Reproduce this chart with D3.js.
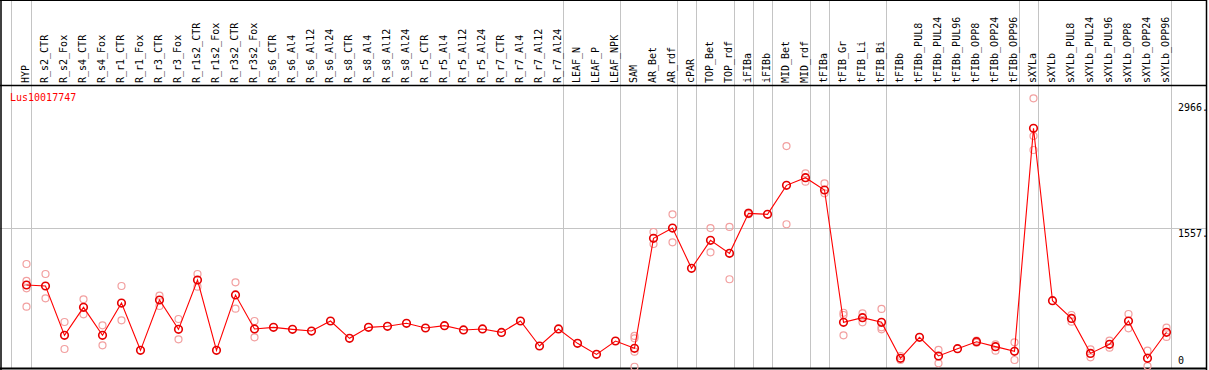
<!DOCTYPE html>
<html>
<head>
<meta charset="utf-8">
<script src="https://cdn.jsdelivr.net/npm/d3@7"></script>
<style>
  body { margin: 0; background: #fff; }
  svg { display: block; }
  text { font-family: "DejaVu Sans Mono", monospace; font-size: 10px; }
</style>
</head>
<body>
<div id="chart"></div>
<script>
// columns (samples)
const categories = ["HYP","R_s2_CTR","R_s2_Fox","R_s4_CTR","R_s4_Fox","R_r1_CTR","R_r1_Fox","R_r3_CTR","R_r3_Fox",
  "R_r1s2_CTR","R_r1s2_Fox","R_r3s2_CTR","R_r3s2_Fox","R_s6_CTR","R_s6_Al4","R_s6_Al12","R_s6_Al24",
  "R_s8_CTR","R_s8_Al4","R_s8_Al12","R_s8_Al24","R_r5_CTR","R_r5_Al4","R_r5_Al12","R_r5_Al24",
  "R_r7_CTR","R_r7_Al4","R_r7_Al12","R_r7_Al24","LEAF_N","LEAF_P","LEAF_NPK","SAM","AR_Bet","AR_rdf",
  "cPAR","TOP_Bet","TOP_rdf","iFIBa","iFIBb","MID_Bet","MID_rdf","tFIBa","tFIB_Gr","tFIB_Li","tFIB_Bi",
  "tFIBb","tFIBb_PUL8","tFIBb_PUL24","tFIBb_PUL96","tFIBb_OPP8","tFIBb_OPP24","tFIBb_OPP96",
  "sXYLa","sXYLb","sXYLb_PUL8","sXYLb_PUL24","sXYLb_PUL96","sXYLb_OPP8","sXYLb_OPP24","sXYLb_OPP96"];

// mean expression per column
const means = [925,914,364,676,364,724,197,758,431,
  981,197,814,435,453,431,412,524,
  331,453,465,498,446,472,424,435,
  397,524,245,435,275,152,301,219,1445,1560,
  1111,1423,1278,1724,1713,2036,2121,1984,509,561,509,
  108,342,134,215,293,238,186,
  2671,750,553,163,264,524,108,398];

// single replicates per column
const replicates = [[1159,970,888,683],[1048,777],[513,212],[765,598],[476,253],[914,531],[],[806,691],[546,320],
  [1048,906],[],[955,661],[524,342],[],[],[],[],
  [],[],[],[],[],[],[],[],
  [],[],[],[],[],[],[],[357,331,182,14],[1516,1382],[1713,1401],
  [],[1560,1289],[1572,989],[1733,1715],[],[2474,1602],[2170,2077],[2058,1947],[616,591,364],[609,509],[658,453,431],
  [134,89],[],[201,52],[],[305,282],[264,193],[286,89],
  [3006,2586,2430],[],[591,516],[208,119],[305,227],[602,442],[193,22],[449,346]];

// last column of each sample group
const groupEnds = ["HYP","R_r7_Al24","LEAF_NPK","AR_rdf","cPAR","TOP_rdf","iFIBa","iFIBb","MID_rdf",
  "tFIBa","tFIB_Bi","tFIBb_OPP96","sXYLa","sXYLb_OPP96"];

const yTicks = [0, 1557, 2966];
const yTickLabels = ["0", "1557.", "2966."];
const geneName = "Lus10017747";

const W = 1209, H = 370;
const headerY = 85, bottomY = 368.5, rightX = 1206.5;

const svg = d3.select("#chart").append("svg")
  .attr("width", W).attr("height", H);

const x = d3.scalePoint()
  .domain(categories)
  .range([26.5, 1166.5]);

const y = d3.scaleLinear()
  .domain([0, 2966])
  .range([368, 101.9]);

const gridColor = "#c4c4c4";

// horizontal grid line
svg.append("line")
  .attr("x1", 0).attr("x2", rightX)
  .attr("y1", Math.round(y(1557)) + 0.5).attr("y2", Math.round(y(1557)) + 0.5)
  .attr("stroke", gridColor);

// group separators
const sepX = [x(categories[0]) - 15.5].concat(groupEnds.map(c => x(c) + 4));
svg.selectAll(".sep")
  .data(sepX)
  .enter().append("line")
  .attr("x1", d => Math.round(d) + 0.5).attr("x2", d => Math.round(d) + 0.5)
  .attr("y1", 0).attr("y2", bottomY)
  .attr("stroke", gridColor);

// frame
svg.append("line").attr("x1", 0).attr("x2", rightX).attr("y1", 0.5).attr("y2", 0.5).attr("stroke", "#000");
svg.append("line").attr("x1", 0).attr("x2", rightX).attr("y1", headerY + 0.5).attr("y2", headerY + 0.5).attr("stroke", "#000").attr("stroke-width", 1.5);
svg.append("line").attr("x1", 0).attr("x2", rightX).attr("y1", bottomY).attr("y2", bottomY).attr("stroke", "#000").attr("stroke-width", 2);
svg.append("line").attr("x1", 1).attr("x2", 1).attr("y1", 0).attr("y2", H).attr("stroke", "#000").attr("stroke-width", 1.5);
svg.append("line").attr("x1", rightX).attr("x2", rightX).attr("y1", 0).attr("y2", H).attr("stroke", "#000").attr("stroke-width", 1.5);

// column labels
svg.selectAll(".collab")
  .data(categories)
  .enter().append("text")
  .attr("transform", d => `translate(${x(d) + 2.5},${headerY - 2}) rotate(-90)`)
  .attr("fill", "#000")
  .text(d => d);

// gene name
svg.append("text")
  .attr("x", 10).attr("y", 101)
  .attr("fill", "#ff0000")
  .text(geneName);

// right axis
const axis = d3.axisRight(y)
  .tickValues(yTicks)
  .tickSize(0)
  .tickPadding(0)
  .tickFormat((d, i) => yTickLabels[i]);
const gAxis = svg.append("g")
  .attr("transform", "translate(1178,0)")
  .call(axis);
gAxis.select(".domain").remove();
gAxis.selectAll("text")
  .attr("x", 0)
  .attr("dy", d => d === 0 ? "-0.5em" : "0.85em")
  .style("font-family", "'DejaVu Sans Mono', monospace")
  .style("font-size", "10px")
  .attr("fill", "#000");

// replicate points
const repPts = [];
categories.forEach((c, i) => replicates[i].forEach(v => repPts.push({ c, v })));
svg.selectAll(".rep")
  .data(repPts)
  .enter().append("circle")
  .attr("cx", d => x(d.c))
  .attr("cy", d => y(d.v))
  .attr("r", 3.5)
  .attr("fill", "none")
  .attr("stroke", "#f2a0a0")
  .attr("stroke-width", 1.2);

// mean line
const line = d3.line()
  .x((d, i) => x(categories[i]))
  .y(d => y(d));
svg.append("path")
  .datum(means)
  .attr("d", line)
  .attr("fill", "none")
  .attr("stroke", "#ff0000")
  .attr("stroke-width", 1.1);

// mean points
svg.selectAll(".mean")
  .data(means)
  .enter().append("circle")
  .attr("cx", (d, i) => x(categories[i]))
  .attr("cy", d => y(d))
  .attr("r", 3.8)
  .attr("fill", "none")
  .attr("stroke", "#e60000")
  .attr("stroke-width", 1.6);
</script>
</body>
</html>
